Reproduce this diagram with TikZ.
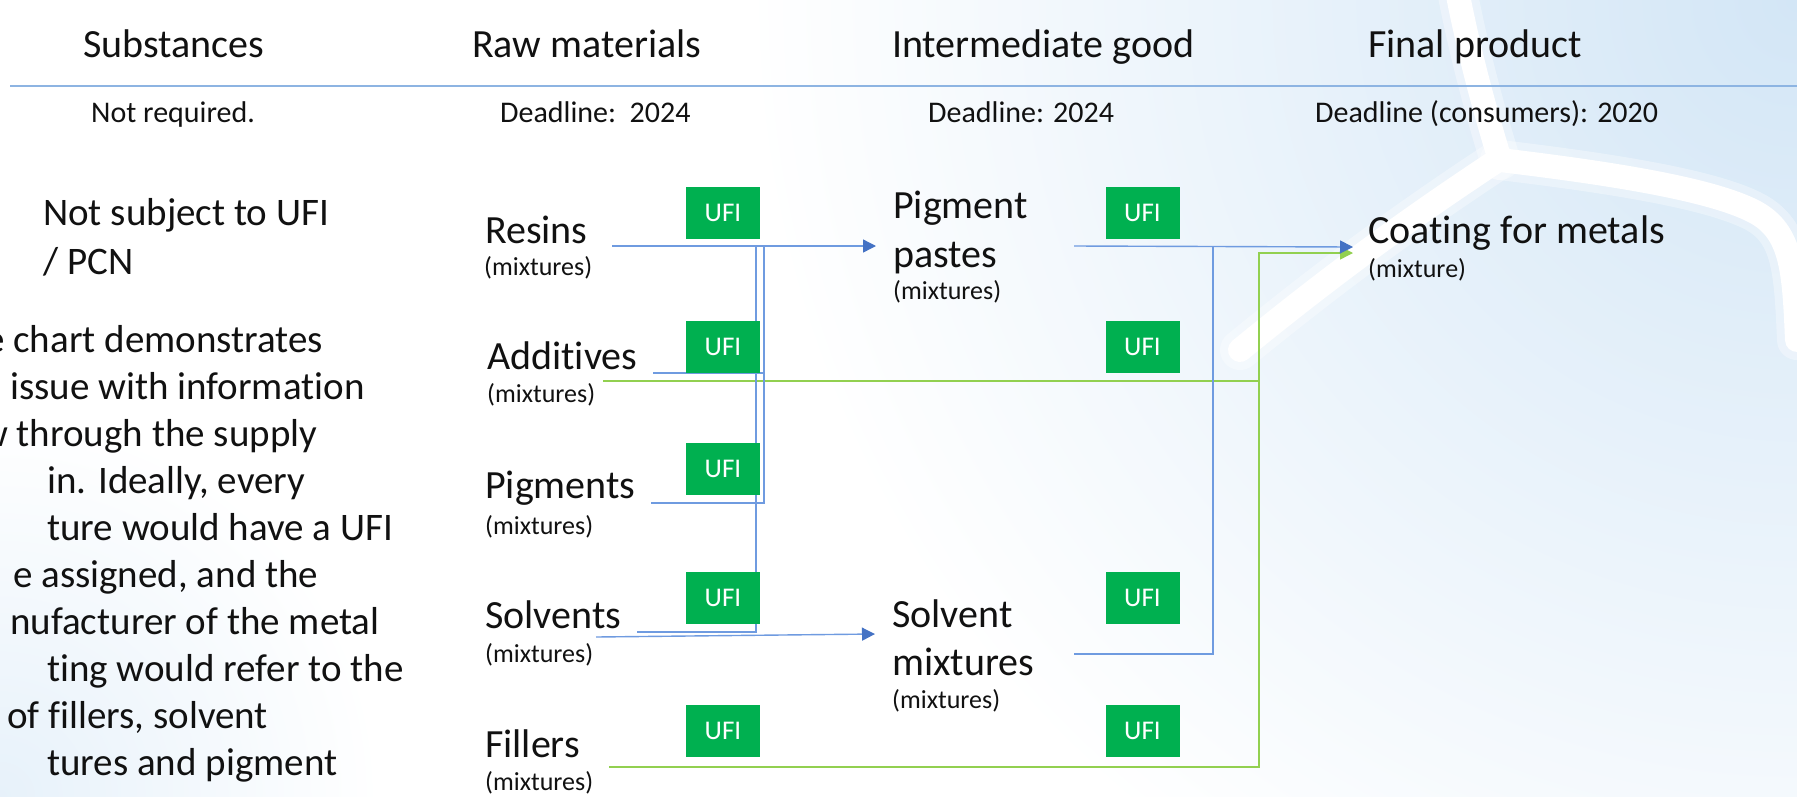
\documentclass[tikz,border=0pt]{standalone}
\usepackage{fontspec}
\setmainfont{Carlito}[Ligatures=NoCommon]
\usetikzlibrary{arrows.meta}
\definecolor{ufigreen}{HTML}{00B050}
\definecolor{lineblue}{HTML}{6F9BE0}
\definecolor{tipblue}{HTML}{4472C4}
\definecolor{linegreen}{HTML}{92D050}
\definecolor{rulecol}{HTML}{8DB4E2}
\definecolor{bgblue}{HTML}{D3E6F6}
\definecolor{ink}{HTML}{111111}
\tikzset{
  hdr/.style={anchor=base west, inner sep=0pt, font=\fontsize{40}{48}\selectfont, text=ink},
  subhdr/.style={anchor=base west, inner sep=0pt, font=\fontsize{30}{36}\selectfont, text=ink},
  lbl/.style={anchor=base west, inner sep=0pt, font=\fontsize{40}{48}\selectfont, text=ink},
  mixlbl/.style={anchor=base west, inner sep=0pt, font=\fontsize{26}{31}\selectfont, text=ink},
  para/.style={anchor=base west, inner sep=0pt, font=\fontsize{39}{47}\selectfont, text=ink},
  ufi/.style={fill=ufigreen, text=white, minimum width=74pt, minimum height=52pt, inner sep=0pt, font=\fontsize{27}{32}\selectfont},
  blueline/.style={draw=lineblue, line width=1.4pt},
  greenline/.style={draw=linegreen, line width=1.4pt},
  bluearrow/.style={blueline, -{Triangle[length=13pt,width=13pt,color=tipblue]}},
  greenarrow/.style={greenline, -{Triangle[length=13pt,width=13pt]}},
  band/.style={draw=white, line cap=round, line join=round}
}
\begin{document}
\begin{tikzpicture}[x=1pt,y=-1pt]
\useasboundingbox (0,0) rectangle (1797,796);
% ---------- background ----------
\fill[white] (0,0) rectangle (1797,796);
\begin{scope}
  \clip (0,0) rectangle (1797,796);
  \shade[inner color=bgblue, outer color=white] (1797,0) circle (1050);
  \shade[inner color=bgblue!55, outer color=white] (0,796) circle (380);
  \foreach \w/\o in {40/0.35,24/1}{
    \draw[band, line width=\w pt, opacity=\o] (1455,-20) .. controls (1470,60) and (1488,120) .. (1500,160);
    \draw[band, line width=\w pt, opacity=\o] (1500,160) .. controls (1600,172) and (1710,188) .. (1755,212) .. controls (1792,232) and (1794,270) .. (1797,340);
    \draw[band, line width=\w pt, opacity=\o] (1495,162) .. controls (1430,205) and (1350,260) .. (1240,350);
  }
\end{scope}
% ---------- header ----------
\node[hdr] (hSub) at (83,57) {Substances};
\node[hdr] (hRaw) at (472,57) {Raw materials};
\node[hdr] (hInt) at (892,57) {Intermediate good};
\node[hdr] (hFin) at (1368,57) {Final product};
\coordinate (ruleL) at (10,86);
\coordinate (ruleR) at (1797,86);
\draw[draw=rulecol, line width=2pt] (ruleL) -- (ruleR);
\node[subhdr] (dSub) at (91,122) {Not required.};
\node[subhdr] (dRaw) at (500,122) {Deadline:\ \ 2024};
\node[subhdr] (dInt) at (928,122) {Deadline: 2024};
\node[subhdr] (dFin) at (1315,122) {Deadline (consumers): 2020};
% ---------- left text ----------
\node[para] (ns1) at (43,225) {Not subject to UFI};
\node[para] (ns2) at (43,274) {/ PCN};
\begin{scope}
  \clip (0,0) rectangle (1797,796);
  \node[para] (p1) at (-15,352) {e chart demonstrates};
  \node[para] (p2) at (10,399) {issue with information};
  \node[para] (p3) at (-20,446) {w through the supply};
  \node[para] (p4) at (47,493) {in. Ideally, every};
  \node[para] (p5) at (47,540) {ture would have a UFI};
  \node[para] (p6) at (13,587) {e assigned, and the};
  \node[para] (p7) at (10,634) {nufacturer of the metal};
  \node[para] (p8) at (47,681) {ting would refer to the};
  \node[para] (p9) at (7,728) {of fillers, solvent};
  \node[para] (p10) at (47,775) {tures and pigment};
\end{scope}
% ---------- connector points ----------
\coordinate (rsOut) at (612,246);
\coordinate (ppIn) at (876,246);
\coordinate (adOut) at (653,373);
\coordinate (pgOut) at (651,503);
\coordinate (jA) at (764,246);
\coordinate (svOut) at (637,632);
\coordinate (jB) at (756,246);
\coordinate (svOut2) at (596,637);
\coordinate (smIn) at (875,634);
\coordinate (ppOut) at (1074,246);
\coordinate (cmIn) at (1353,247);
\coordinate (smOut) at (1074,654);
\coordinate (jC) at (1213,246);
\coordinate (adGreen) at (603,381);
\coordinate (flGreen) at (609,767);
\coordinate (jD) at (1259,253);
\coordinate (cmIn2) at (1353,253);
% ---------- green connectors ----------
\draw[greenline] (adGreen) -| (jD);
\draw[greenarrow] (flGreen) -| (jD) -- (cmIn2);
% ---------- blue connectors ----------
\draw[blueline] (adOut) -| (jA);
\draw[blueline] (pgOut) -| (jA);
\draw[blueline] (svOut) -| (jB);
\draw[bluearrow] (rsOut) -- (ppIn);
\draw[bluearrow] (svOut2) -- (smIn);
\draw[blueline] (smOut) -| (jC);
\draw[bluearrow] (ppOut) -- (cmIn);
% ---------- UFI boxes ----------
\node[ufi] (u1) at (723,213) {UFI};
\node[ufi] (u2) at (723,346.5) {UFI};
\node[ufi] (u3) at (723,469) {UFI};
\node[ufi] (u4) at (723,597.5) {UFI};
\node[ufi] (u5) at (723,730.5) {UFI};
\node[ufi] (u6) at (1142.5,213) {UFI};
\node[ufi] (u7) at (1142.5,346.5) {UFI};
\node[ufi] (u8) at (1142.5,597.5) {UFI};
\node[ufi] (u9) at (1142.5,730.5) {UFI};
% ---------- labels ----------
\node[lbl] (resins) at (485,243) {Resins};
\node[mixlbl] (resinsM) at (484,275) {(mixtures)};
\node[lbl] (additives) at (487,369) {Additives};
\node[mixlbl] (additivesM) at (487,402) {(mixtures)};
\node[lbl] (pigments) at (485,498) {Pigments};
\node[mixlbl] (pigmentsM) at (485,534) {(mixtures)};
\node[lbl] (solvents) at (485,628) {Solvents};
\node[mixlbl] (solventsM) at (485,662) {(mixtures)};
\node[lbl] (fillers) at (485,757) {Fillers};
\node[mixlbl] (fillersM) at (485,790) {(mixtures)};
\node[lbl] (pp1) at (893,218) {Pigment};
\node[lbl] (pp2) at (893,267) {pastes};
\node[mixlbl] (ppM) at (893,299) {(mixtures)};
\node[lbl] (sm1) at (892,627) {Solvent};
\node[lbl] (sm2) at (892,675) {mixtures};
\node[mixlbl] (smM) at (892,708) {(mixtures)};
\node[lbl] (coat) at (1368,243) {Coating for metals};
\node[mixlbl] (coatM) at (1368,277) {(mixture)};
\end{tikzpicture}
\end{document}
